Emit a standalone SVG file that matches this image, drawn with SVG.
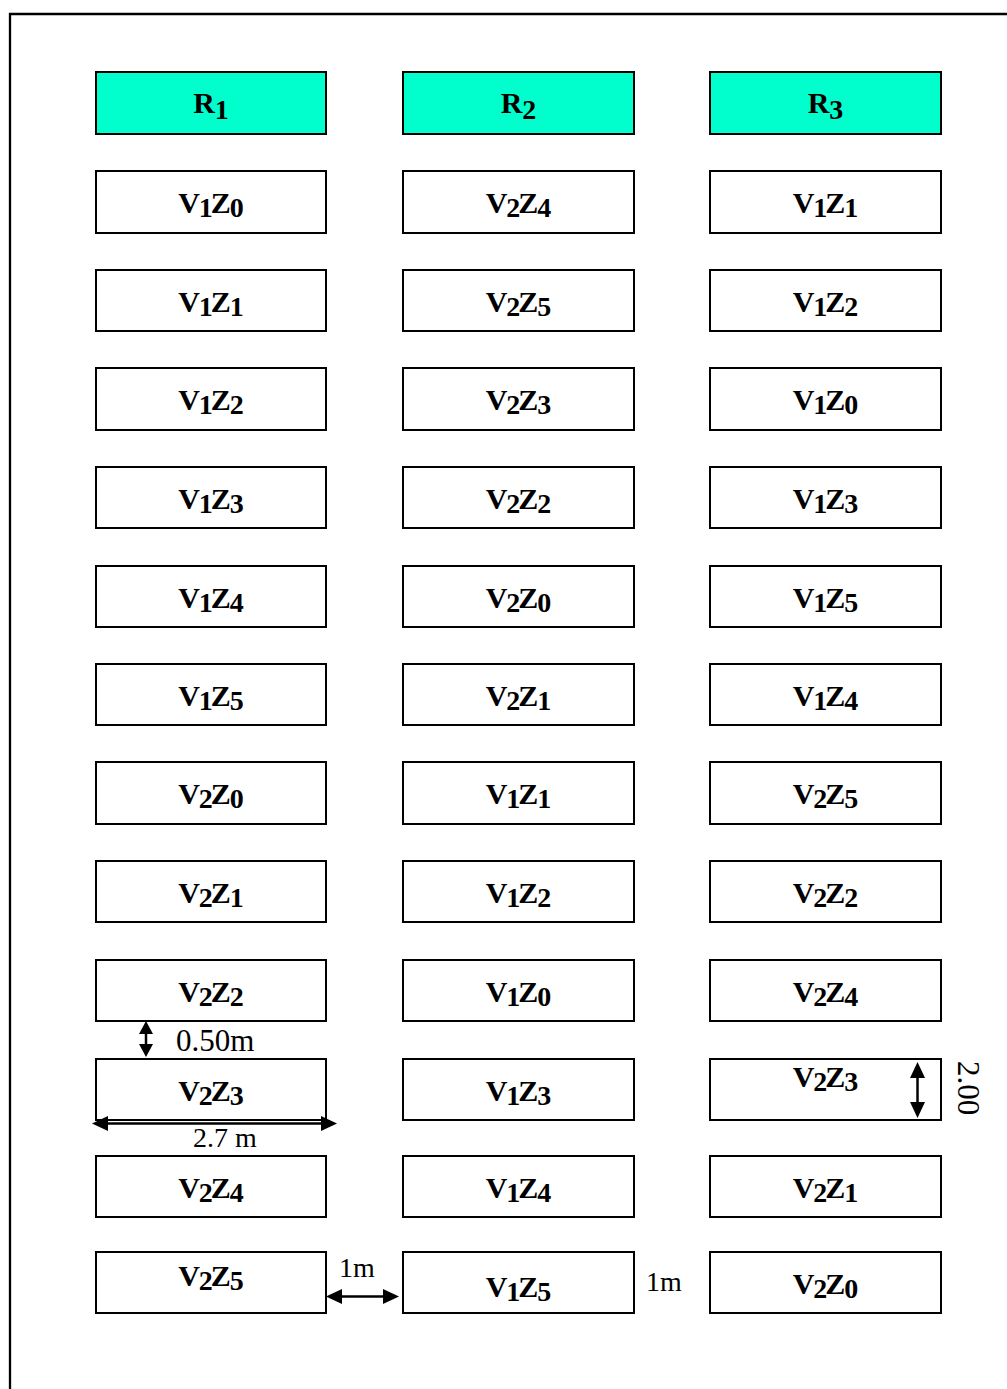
<svg xmlns="http://www.w3.org/2000/svg" width="1007" height="1389" viewBox="0 0 1007 1389">
<style>
.box{fill:#ffffff;stroke:#000000;stroke-width:2}
.hdr{fill:#00FFCC;stroke:#000000;stroke-width:2}
.lbl{font-family:"Liberation Serif","Times New Roman",serif;font-weight:bold;font-size:30px;text-anchor:middle;fill:#000}
.sub{font-size:28px}
.dim{font-family:"Liberation Serif","Times New Roman",serif;font-size:28px;fill:#000}
.dl{stroke:#000;stroke-width:2.5;fill:none}
</style>
<defs>
<marker id="ah" markerUnits="userSpaceOnUse" markerWidth="17" markerHeight="16" refX="0" refY="7.5" orient="auto-start-reverse" overflow="visible">
<path d="M0,0 L16,7.5 L0,15 z" fill="#000"/>
</marker>
<marker id="ahs" markerUnits="userSpaceOnUse" markerWidth="14" markerHeight="15" refX="0" refY="7" orient="auto-start-reverse" overflow="visible">
<path d="M0,0 L13,7 L0,14 z" fill="#000"/>
</marker>
</defs>
<rect width="1007" height="1389" fill="#ffffff"/>
<path d="M10,1389 V14 H1007" fill="none" stroke="#000" stroke-width="2.3"/>

<g id="col1">
<g id="c1h"><rect class="hdr" x="96" y="72" width="230" height="62"/><text class="lbl" x="211" y="113">R<tspan class="sub" dy="6">1</tspan></text></g>
<g id="c1r1"><rect class="box" x="96" y="171" width="230" height="62"/><text class="lbl" x="211" y="213">V<tspan class="sub" dy="4" dx="-1">1</tspan><tspan dy="-4" dx="-2">Z</tspan><tspan class="sub" dy="4" dx="-1">0</tspan></text></g>
<g id="c1r2"><rect class="box" x="96" y="270" width="230" height="61"/><text class="lbl" x="211" y="312">V<tspan class="sub" dy="4" dx="-1">1</tspan><tspan dy="-4" dx="-2">Z</tspan><tspan class="sub" dy="4" dx="-1">1</tspan></text></g>
<g id="c1r3"><rect class="box" x="96" y="368" width="230" height="62"/><text class="lbl" x="211" y="410">V<tspan class="sub" dy="4" dx="-1">1</tspan><tspan dy="-4" dx="-2">Z</tspan><tspan class="sub" dy="4" dx="-1">2</tspan></text></g>
<g id="c1r4"><rect class="box" x="96" y="467" width="230" height="61"/><text class="lbl" x="211" y="509">V<tspan class="sub" dy="4" dx="-1">1</tspan><tspan dy="-4" dx="-2">Z</tspan><tspan class="sub" dy="4" dx="-1">3</tspan></text></g>
<g id="c1r5"><rect class="box" x="96" y="566" width="230" height="61"/><text class="lbl" x="211" y="608">V<tspan class="sub" dy="4" dx="-1">1</tspan><tspan dy="-4" dx="-2">Z</tspan><tspan class="sub" dy="4" dx="-1">4</tspan></text></g>
<g id="c1r6"><rect class="box" x="96" y="664" width="230" height="61"/><text class="lbl" x="211" y="706">V<tspan class="sub" dy="4" dx="-1">1</tspan><tspan dy="-4" dx="-2">Z</tspan><tspan class="sub" dy="4" dx="-1">5</tspan></text></g>
<g id="c1r7"><rect class="box" x="96" y="762" width="230" height="62"/><text class="lbl" x="211" y="804">V<tspan class="sub" dy="4" dx="-1">2</tspan><tspan dy="-4" dx="-2">Z</tspan><tspan class="sub" dy="4" dx="-1">0</tspan></text></g>
<g id="c1r8"><rect class="box" x="96" y="861" width="230" height="61"/><text class="lbl" x="211" y="903">V<tspan class="sub" dy="4" dx="-1">2</tspan><tspan dy="-4" dx="-2">Z</tspan><tspan class="sub" dy="4" dx="-1">1</tspan></text></g>
<g id="c1r9"><rect class="box" x="96" y="960" width="230" height="61"/><text class="lbl" x="211" y="1002">V<tspan class="sub" dy="4" dx="-1">2</tspan><tspan dy="-4" dx="-2">Z</tspan><tspan class="sub" dy="4" dx="-1">2</tspan></text></g>
<g id="c1r10"><rect class="box" x="96" y="1059" width="230" height="61"/><text class="lbl" x="211" y="1101">V<tspan class="sub" dy="4" dx="-1">2</tspan><tspan dy="-4" dx="-2">Z</tspan><tspan class="sub" dy="4" dx="-1">3</tspan></text></g>
<g id="c1r11"><rect class="box" x="96" y="1156" width="230" height="61"/><text class="lbl" x="211" y="1198">V<tspan class="sub" dy="4" dx="-1">2</tspan><tspan dy="-4" dx="-2">Z</tspan><tspan class="sub" dy="4" dx="-1">4</tspan></text></g>
<g id="c1r12"><rect class="box" x="96" y="1252" width="230" height="61"/><text class="lbl" x="211" y="1286">V<tspan class="sub" dy="4" dx="-1">2</tspan><tspan dy="-4" dx="-2">Z</tspan><tspan class="sub" dy="4" dx="-1">5</tspan></text></g>
</g>

<g id="col2">
<g id="c2h"><rect class="hdr" x="403" y="72" width="231" height="62"/><text class="lbl" x="518.5" y="113">R<tspan class="sub" dy="6">2</tspan></text></g>
<g id="c2r1"><rect class="box" x="403" y="171" width="231" height="62"/><text class="lbl" x="518.5" y="213">V<tspan class="sub" dy="4" dx="-1">2</tspan><tspan dy="-4" dx="-2">Z</tspan><tspan class="sub" dy="4" dx="-1">4</tspan></text></g>
<g id="c2r2"><rect class="box" x="403" y="270" width="231" height="61"/><text class="lbl" x="518.5" y="312">V<tspan class="sub" dy="4" dx="-1">2</tspan><tspan dy="-4" dx="-2">Z</tspan><tspan class="sub" dy="4" dx="-1">5</tspan></text></g>
<g id="c2r3"><rect class="box" x="403" y="368" width="231" height="62"/><text class="lbl" x="518.5" y="410">V<tspan class="sub" dy="4" dx="-1">2</tspan><tspan dy="-4" dx="-2">Z</tspan><tspan class="sub" dy="4" dx="-1">3</tspan></text></g>
<g id="c2r4"><rect class="box" x="403" y="467" width="231" height="61"/><text class="lbl" x="518.5" y="509">V<tspan class="sub" dy="4" dx="-1">2</tspan><tspan dy="-4" dx="-2">Z</tspan><tspan class="sub" dy="4" dx="-1">2</tspan></text></g>
<g id="c2r5"><rect class="box" x="403" y="566" width="231" height="61"/><text class="lbl" x="518.5" y="608">V<tspan class="sub" dy="4" dx="-1">2</tspan><tspan dy="-4" dx="-2">Z</tspan><tspan class="sub" dy="4" dx="-1">0</tspan></text></g>
<g id="c2r6"><rect class="box" x="403" y="664" width="231" height="61"/><text class="lbl" x="518.5" y="706">V<tspan class="sub" dy="4" dx="-1">2</tspan><tspan dy="-4" dx="-2">Z</tspan><tspan class="sub" dy="4" dx="-1">1</tspan></text></g>
<g id="c2r7"><rect class="box" x="403" y="762" width="231" height="62"/><text class="lbl" x="518.5" y="804">V<tspan class="sub" dy="4" dx="-1">1</tspan><tspan dy="-4" dx="-2">Z</tspan><tspan class="sub" dy="4" dx="-1">1</tspan></text></g>
<g id="c2r8"><rect class="box" x="403" y="861" width="231" height="61"/><text class="lbl" x="518.5" y="903">V<tspan class="sub" dy="4" dx="-1">1</tspan><tspan dy="-4" dx="-2">Z</tspan><tspan class="sub" dy="4" dx="-1">2</tspan></text></g>
<g id="c2r9"><rect class="box" x="403" y="960" width="231" height="61"/><text class="lbl" x="518.5" y="1002">V<tspan class="sub" dy="4" dx="-1">1</tspan><tspan dy="-4" dx="-2">Z</tspan><tspan class="sub" dy="4" dx="-1">0</tspan></text></g>
<g id="c2r10"><rect class="box" x="403" y="1059" width="231" height="61"/><text class="lbl" x="518.5" y="1101">V<tspan class="sub" dy="4" dx="-1">1</tspan><tspan dy="-4" dx="-2">Z</tspan><tspan class="sub" dy="4" dx="-1">3</tspan></text></g>
<g id="c2r11"><rect class="box" x="403" y="1156" width="231" height="61"/><text class="lbl" x="518.5" y="1198">V<tspan class="sub" dy="4" dx="-1">1</tspan><tspan dy="-4" dx="-2">Z</tspan><tspan class="sub" dy="4" dx="-1">4</tspan></text></g>
<g id="c2r12"><rect class="box" x="403" y="1252" width="231" height="61"/><text class="lbl" x="518.5" y="1297">V<tspan class="sub" dy="4" dx="-1">1</tspan><tspan dy="-4" dx="-2">Z</tspan><tspan class="sub" dy="4" dx="-1">5</tspan></text></g>
</g>

<g id="col3">
<g id="c3h"><rect class="hdr" x="710" y="72" width="231" height="62"/><text class="lbl" x="825.5" y="113">R<tspan class="sub" dy="6">3</tspan></text></g>
<g id="c3r1"><rect class="box" x="710" y="171" width="231" height="62"/><text class="lbl" x="825.5" y="213">V<tspan class="sub" dy="4" dx="-1">1</tspan><tspan dy="-4" dx="-2">Z</tspan><tspan class="sub" dy="4" dx="-1">1</tspan></text></g>
<g id="c3r2"><rect class="box" x="710" y="270" width="231" height="61"/><text class="lbl" x="825.5" y="312">V<tspan class="sub" dy="4" dx="-1">1</tspan><tspan dy="-4" dx="-2">Z</tspan><tspan class="sub" dy="4" dx="-1">2</tspan></text></g>
<g id="c3r3"><rect class="box" x="710" y="368" width="231" height="62"/><text class="lbl" x="825.5" y="410">V<tspan class="sub" dy="4" dx="-1">1</tspan><tspan dy="-4" dx="-2">Z</tspan><tspan class="sub" dy="4" dx="-1">0</tspan></text></g>
<g id="c3r4"><rect class="box" x="710" y="467" width="231" height="61"/><text class="lbl" x="825.5" y="509">V<tspan class="sub" dy="4" dx="-1">1</tspan><tspan dy="-4" dx="-2">Z</tspan><tspan class="sub" dy="4" dx="-1">3</tspan></text></g>
<g id="c3r5"><rect class="box" x="710" y="566" width="231" height="61"/><text class="lbl" x="825.5" y="608">V<tspan class="sub" dy="4" dx="-1">1</tspan><tspan dy="-4" dx="-2">Z</tspan><tspan class="sub" dy="4" dx="-1">5</tspan></text></g>
<g id="c3r6"><rect class="box" x="710" y="664" width="231" height="61"/><text class="lbl" x="825.5" y="706">V<tspan class="sub" dy="4" dx="-1">1</tspan><tspan dy="-4" dx="-2">Z</tspan><tspan class="sub" dy="4" dx="-1">4</tspan></text></g>
<g id="c3r7"><rect class="box" x="710" y="762" width="231" height="62"/><text class="lbl" x="825.5" y="804">V<tspan class="sub" dy="4" dx="-1">2</tspan><tspan dy="-4" dx="-2">Z</tspan><tspan class="sub" dy="4" dx="-1">5</tspan></text></g>
<g id="c3r8"><rect class="box" x="710" y="861" width="231" height="61"/><text class="lbl" x="825.5" y="903">V<tspan class="sub" dy="4" dx="-1">2</tspan><tspan dy="-4" dx="-2">Z</tspan><tspan class="sub" dy="4" dx="-1">2</tspan></text></g>
<g id="c3r9"><rect class="box" x="710" y="960" width="231" height="61"/><text class="lbl" x="825.5" y="1002">V<tspan class="sub" dy="4" dx="-1">2</tspan><tspan dy="-4" dx="-2">Z</tspan><tspan class="sub" dy="4" dx="-1">4</tspan></text></g>
<g id="c3r10"><rect class="box" x="710" y="1059" width="231" height="61"/><text class="lbl" x="825.5" y="1087">V<tspan class="sub" dy="4" dx="-1">2</tspan><tspan dy="-4" dx="-2">Z</tspan><tspan class="sub" dy="4" dx="-1">3</tspan></text></g>
<g id="c3r11"><rect class="box" x="710" y="1156" width="231" height="61"/><text class="lbl" x="825.5" y="1198">V<tspan class="sub" dy="4" dx="-1">2</tspan><tspan dy="-4" dx="-2">Z</tspan><tspan class="sub" dy="4" dx="-1">1</tspan></text></g>
<g id="c3r12"><rect class="box" x="710" y="1252" width="231" height="61"/><text class="lbl" x="825.5" y="1294">V<tspan class="sub" dy="4" dx="-1">2</tspan><tspan dy="-4" dx="-2">Z</tspan><tspan class="sub" dy="4" dx="-1">0</tspan></text></g>
</g>

<g id="dimensions">
<line class="dl" x1="146" y1="1034" x2="146" y2="1044" marker-start="url(#ahs)" marker-end="url(#ahs)"/>
<text class="dim" x="176" y="1051" style="font-size:31px">0.50m</text>
<line class="dl" x1="108" y1="1123.5" x2="321" y2="1123.5" marker-start="url(#ah)" marker-end="url(#ah)"/>
<text class="dim" x="193" y="1147">2.7 m</text>
<line class="dl" x1="917.5" y1="1078" x2="917.5" y2="1102" marker-start="url(#ah)" marker-end="url(#ah)"/>
<text class="dim" transform="translate(958,1061) rotate(90)" style="font-size:31px">2.00</text>
<line class="dl" x1="342" y1="1296.5" x2="383" y2="1296.5" marker-start="url(#ah)" marker-end="url(#ah)"/>
<text class="dim" x="339" y="1277">1m</text>
<text class="dim" x="646" y="1291">1m</text>
</g>
</svg>
